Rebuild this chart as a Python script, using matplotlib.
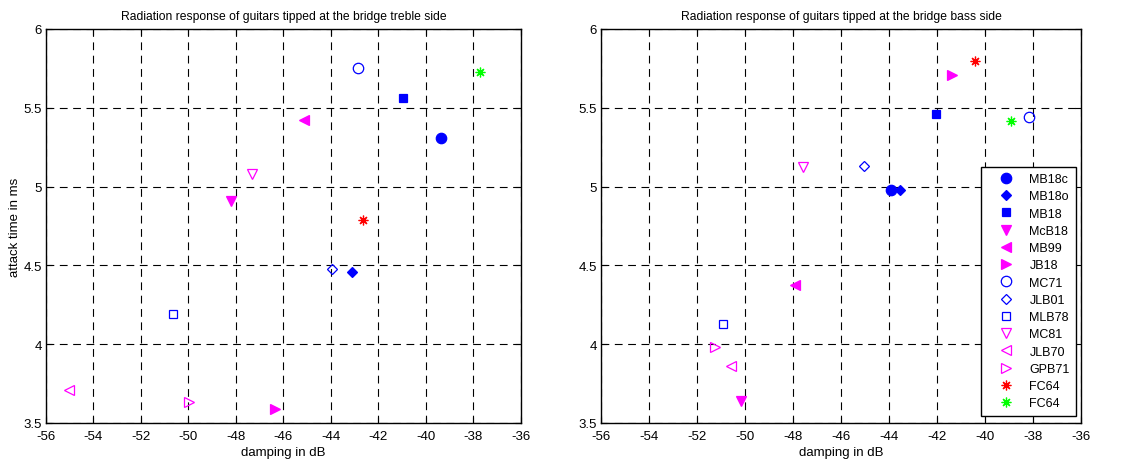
import numpy as np
import matplotlib
matplotlib.use("Agg")
import matplotlib.pyplot as plt

plt.rcParams['font.family'] = ['Liberation Sans', 'DejaVu Sans']
plt.rcParams['axes.unicode_minus'] = False

# guitars, in legend order
names = ['MB18c', 'MB18o', 'MB18', 'McB18', 'MB99', 'JB18', 'MC71',
         'JLB01', 'MLB78', 'MC81', 'JLB70', 'GPB71', 'FC64', 'FC64']

# treble side (damping dB, attack time ms)
treble_damp = [-39.38, -43.1, -40.98, -48.22, -45.13, -46.35, -42.87,
               -43.94, -50.63, -47.32, -55.05, -49.97, -42.66, -37.71]
treble_attack = [5.31, 4.46, 5.56, 4.91, 5.42, 3.59, 5.75,
                 4.48, 4.19, 5.08, 3.71, 3.63, 4.79, 5.73]

# bass side
bass_damp = [-43.92, -43.53, -42.04, -50.17, -47.93, -41.37, -38.15,
             -45.06, -50.9, -47.57, -50.6, -51.24, -40.4, -38.94]
bass_attack = [4.98, 4.98, 5.46, 3.64, 4.375, 5.71, 5.44,
               5.13, 4.13, 5.125, 3.86, 3.985, 5.795, 5.415]

blue = '#0000ff'
mag = '#ff00ff'
# marker, colour, filled
styles = [('o', blue, True), ('D', blue, True), ('s', blue, True),
          ('v', mag, True), ('<', mag, True), ('>', mag, True),
          ('o', blue, False), ('D', blue, False), ('s', blue, False),
          ('v', mag, False), ('<', mag, False), ('>', mag, False),
          ((8, 2, 0), '#ff0000', True), ((8, 2, 0), '#00ff00', True)]
sizes = {'o': 7.5, 'D': 5.5, 's': 6, 'v': 7.5, '<': 7.5, '>': 7.5}

fig = plt.figure(figsize=(11.32, 4.6), dpi=100)
ax1 = fig.add_axes([0.0406, 0.0783, 0.4196, 0.8565])
ax2 = fig.add_axes([0.531, 0.0783, 0.424, 0.8565])


def draw(ax, xs, ys, title):
    for i in range(len(names)):
        m, c, filled = styles[i]
        ms = sizes.get(m, 7) if isinstance(m, str) else 7
        ax.plot(xs[i], ys[i], linestyle='none', marker=m, markersize=ms,
                markeredgecolor=c, markerfacecolor=c if filled else 'none',
                markeredgewidth=0.9, label=names[i])
    ax.set_xlim(-56, -36)
    ax.set_ylim(3.5, 6)
    ax.set_xticks(np.arange(-56, -35, 2))
    ax.set_yticks([3.5, 4, 4.5, 5, 5.5, 6])
    ax.set_yticklabels(['3.5', '4', '4.5', '5', '5.5', '6'])
    ax.grid(True, color='k', linestyle=(0, (7, 5)), linewidth=0.8)
    ax.tick_params(direction='in', top=True, right=True, labelsize=9.5,
                   length=4, width=0.8)
    ax.tick_params(axis='x', pad=5)
    ax.tick_params(axis='y', pad=3)
    for s in ax.spines.values():
        s.set_linewidth(1.0)
    ax.set_title(title, fontsize=8.7, pad=7)
    ax.set_xlabel('damping in dB', fontsize=9.5, labelpad=3)


draw(ax1, treble_damp, treble_attack,
     'Radiation response of guitars tipped at the bridge treble side')
ax1.set_ylabel('attack time in ms', fontsize=9.5, labelpad=2)
draw(ax2, bass_damp, bass_attack,
     'Radiation response of guitars tipped at the bridge bass side')

leg = ax2.legend(loc='lower right', bbox_to_anchor=(0.9896, 0.0185),
                 borderaxespad=0, fontsize=9, labelspacing=0.42,
                 handlelength=3.0, handletextpad=0.4, fancybox=False,
                 framealpha=1, edgecolor='k', borderpad=0.5)
leg.get_frame().set_linewidth(1.0)

fig.savefig('out.png', dpi=100)
